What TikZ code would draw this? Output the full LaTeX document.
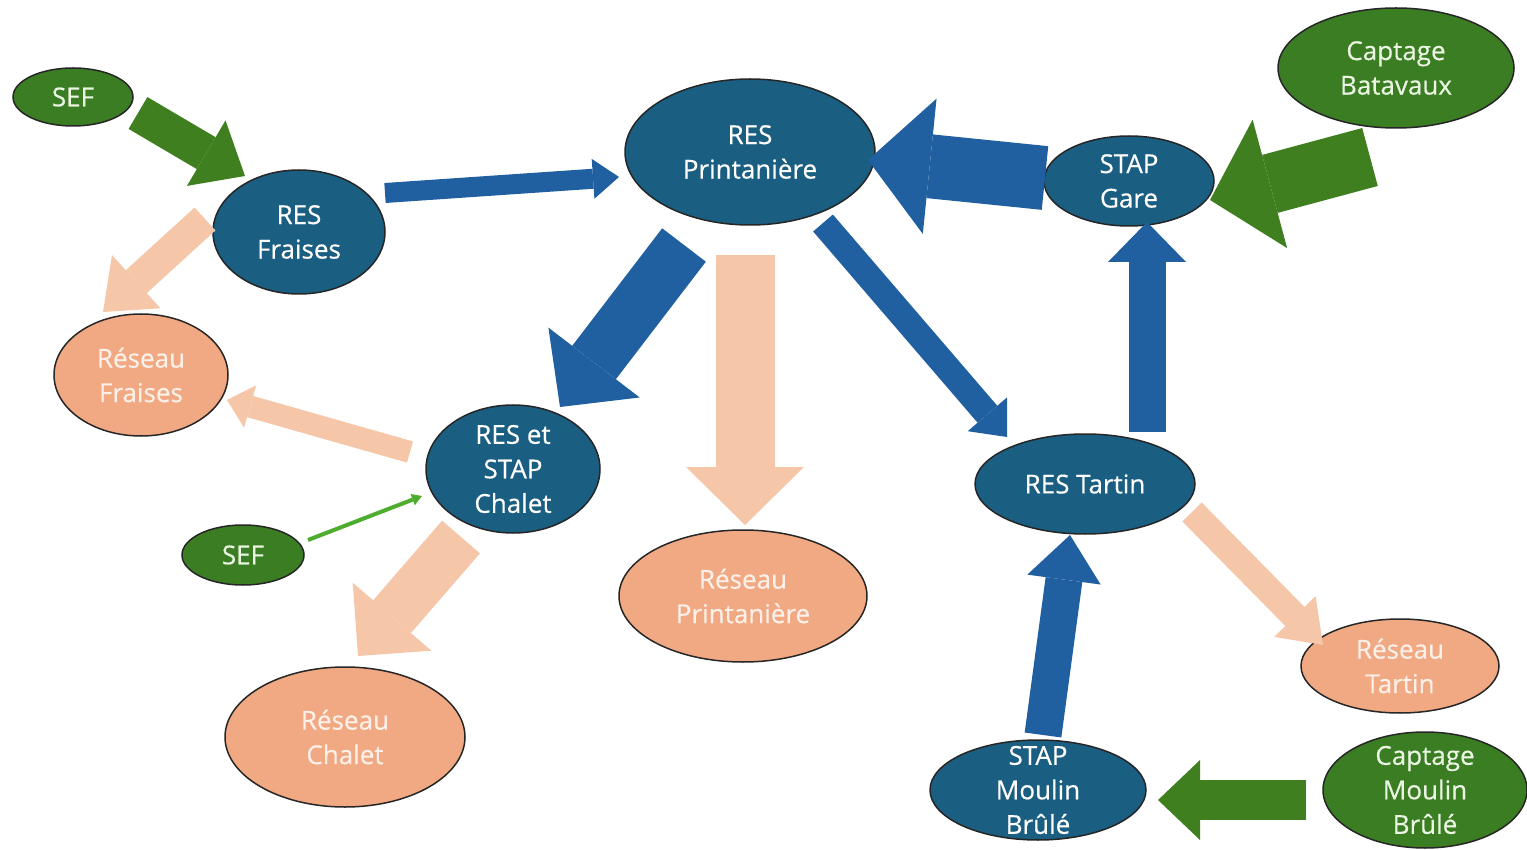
\documentclass[tikz,border=0pt]{standalone}
\usepackage{fontspec}
\setmainfont{Open Sans}
\newfontfamily\lblfont{Open Sans}[FakeBold=0.4]
\usetikzlibrary{shapes.geometric,arrows.meta}
\definecolor{nblue}{HTML}{1A5E82}
\definecolor{ablue}{HTML}{2160A0}
\definecolor{ngreen}{HTML}{3B7D23}
\definecolor{agreen}{HTML}{3F7F20}
\definecolor{nsalmon}{HTML}{F1A983}
\definecolor{asalmon}{HTML}{F6C6A9}
\definecolor{lgreen}{HTML}{4EAD2E}
\definecolor{gtext}{HTML}{EAF5E2}
\definecolor{stext}{HTML}{FDF0E8}
\begin{document}
\begin{tikzpicture}[x=1pt,y=-1pt,
  base/.style={ellipse,draw=black!85,line width=1.5pt,inner sep=0pt},
  bnode/.style={base,fill=nblue},
  gnode/.style={base,fill=ngreen},
  snode/.style={base,fill=nsalmon},
  lbl/.style={align=center,inner sep=0pt,font=\lblfont\fontsize{26}{34.5}\selectfont},
  btxt/.style={lbl,text=white},
  gtxt/.style={lbl,text=gtext},
  stxt/.style={lbl,text=stext},
  blk/.style n args={4}{draw=#1,line width=#2pt,-{Triangle[length=#4pt,width=#3pt,line width=0pt]}}
]
\useasboundingbox (0,0) rectangle (1527,850);

% nodes
\node[gnode,minimum width=120pt,minimum height=58pt] (sef1) at (73,97) {};
\node[gtxt] (sef1t) at (sef1) {SEF};
\node[bnode,minimum width=172pt,minimum height=124pt] (fraises) at (299,232) {};
\node[btxt] (fraisest) at (fraises) {RES\\Fraises};
\node[snode,minimum width=174pt,minimum height=122pt] (rfraises) at (141,375) {};
\node[stxt] (rfraisest) at (rfraises) {Réseau\\Fraises};
\node[bnode,minimum width=250pt,minimum height=146pt] (print) at (750,152) {};
\node[btxt] (printt) at (print) {RES\\Printanière};
\node[bnode,minimum width=170pt,minimum height=90pt] (gare) at (1129,181) {};
\node[btxt] (garet) at (gare) {STAP\\Gare};
\node[gnode,minimum width=236pt,minimum height=120pt] (bata) at (1396,68) {};
\node[gtxt] (batat) at (bata) {Captage\\Batavaux};
\node[bnode,minimum width=174pt,minimum height=128pt] (chalet) at (513,469) {};
\node[btxt] (chalett) at (chalet) {RES et\\STAP\\Chalet};
\node[gnode,minimum width=122pt,minimum height=60pt] (sef2) at (243,555) {};
\node[gtxt] (sef2t) at (sef2) {SEF};
\node[snode,minimum width=240pt,minimum height=140pt] (rchalet) at (345,737) {};
\node[stxt] (rchalett) at (rchalet) {Réseau\\Chalet};
\node[snode,minimum width=248pt,minimum height=132pt] (rprint) at (743,596) {};
\node[stxt] (rprintt) at (rprint) {Réseau\\Printanière};
\node[bnode,minimum width=220pt,minimum height=100pt] (tartin) at (1085,484) {};
\node[btxt] (tartint) at (tartin) {RES Tartin};
\node[snode,minimum width=198pt,minimum height=94pt] (rtartin) at (1400,666) {};
\node[stxt] (rtartint) at (rtartin) {Réseau\\Tartin};
\node[bnode,minimum width=216pt,minimum height=100pt] (moulin) at (1038,790) {};
\node[btxt] (moulint) at (moulin) {STAP\\Moulin\\Brûlé};
\node[gnode,minimum width=204pt,minimum height=116pt] (cmoulin) at (1425,790) {};
\node[gtxt] (cmoulint) at (cmoulin) {Captage\\Moulin\\Brûlé};

% arrow end points
\coordinate (a1t) at (138,113);  \coordinate (a1h) at (245,176);
\coordinate (a2t) at (385,193);  \coordinate (a2h) at (619,177);
\coordinate (a3t) at (1045,178); \coordinate (a3h) at (868,160);
\coordinate (a4t) at (1370,157); \coordinate (a4h) at (1210,200);
\coordinate (a5t) at (684,245);  \coordinate (a5h) at (560,407);
\coordinate (a6t) at (745,255);  \coordinate (a6h) at (745,525);
\coordinate (a7t) at (823,223);  \coordinate (a7h) at (1007,437);
\coordinate (a8t) at (1147,432); \coordinate (a8h) at (1147,222);
\coordinate (a9t) at (1043,735); \coordinate (a9h) at (1070,535);
\coordinate (a10t) at (1306,800); \coordinate (a10h) at (1158,800);
\coordinate (a11t) at (1192,512); \coordinate (a11h) at (1323,645);
\coordinate (a12t) at (205,219);  \coordinate (a12h) at (103,312);
\coordinate (a13t) at (410,452);  \coordinate (a13h) at (227,400);
\coordinate (a14t) at (308,540);  \coordinate (a14h) at (422,496);
\coordinate (a15t) at (461,537);  \coordinate (a15h) at (358,656);

% arrows
\draw[blk={agreen}{37}{76}{45}] (a1t) -- (a1h);
\draw[blk={ablue}{20}{40}{26}] (a2t) -- (a2h);
\draw[blk={ablue}{64}{136}{62}] (a3t) -- (a3h);
\draw[blk={agreen}{60}{133}{62}] (a4t) -- (a4h);
\draw[blk={ablue}{55}{115}{56}] (a5t) -- (a5h);
\draw[blk={asalmon}{59}{118}{58}] (a6t) -- (a6h);
\draw[blk={ablue}{26}{52}{30}] (a7t) -- (a7h);
\draw[blk={ablue}{37}{78}{40}] (a8t) -- (a8h);
\draw[blk={ablue}{37}{74}{45}] (a9t) -- (a9h);
\draw[blk={agreen}{40}{80}{42}] (a10t) -- (a10h);
\draw[blk={asalmon}{27}{58}{40}] (a11t) -- (a11h);
\draw[blk={asalmon}{31}{72}{45}] (a12t) -- (a12h);
\draw[blk={asalmon}{22}{44}{24}] (a13t) -- (a13h);
\draw[blk={lgreen}{4}{12}{10}] (a14t) -- (a14h);
\draw[blk={asalmon}{50}{104}{52}] (a15t) -- (a15h);
\end{tikzpicture}
\end{document}
